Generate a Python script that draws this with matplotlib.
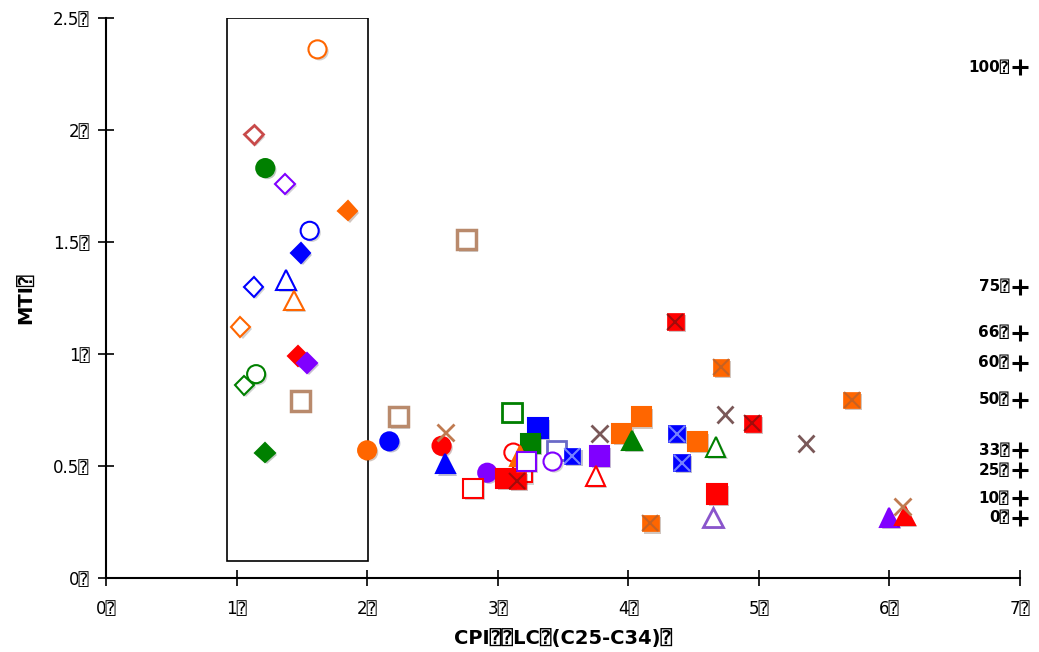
import matplotlib
matplotlib.use("Agg")
import matplotlib.pyplot as plt
import matplotlib.patheffects as pe
from matplotlib.patches import Rectangle

plt.rcParams["font.family"] = ["DejaVu Sans", "DejaVu Sans Mono", "Noto Sans"]

# missing-glyph box used in the original labels
Q = "\u2370"

# -----------------------------
# Data: (x = CPI of LC(C25-C34), y = MTI), grouped by marker style
# -----------------------------
orange_open_circle_x = [1.62]
orange_open_circle_y = [2.36]
rose_open_diamond_x = [1.13]
rose_open_diamond_y = [1.98]
green_circle_x = [1.22]
green_circle_y = [1.83]
purple_open_diamond_x = [1.37]
purple_open_diamond_y = [1.76]
orange_diamond_x = [1.85]
orange_diamond_y = [1.64]
blue_open_circle_x = [1.56]
blue_open_circle_y = [1.55]
blue_diamond_x = [1.49]
blue_diamond_y = [1.45]
blue_open_diamond_x = [1.13]
blue_open_diamond_y = [1.30]
blue_open_triangle_x = [1.38]
blue_open_triangle_y = [1.33]
orange_open_triangle_x = [1.44]
orange_open_triangle_y = [1.24]
orange_open_diamond_x = [1.03]
orange_open_diamond_y = [1.12]
red_diamond_x = [1.47]
red_diamond_y = [0.99]
purple_diamond_x = [1.54]
purple_diamond_y = [0.96]
green_open_circle_x = [1.15]
green_open_circle_y = [0.91]
green_open_diamond_x = [1.06]
green_open_diamond_y = [0.86]
tan_open_square_x = [1.49, 2.24, 2.76]
tan_open_square_y = [0.79, 0.72, 1.51]
green_diamond_x = [1.22]
green_diamond_y = [0.56]
orange_circle_x = [2.00]
orange_circle_y = [0.57]
blue_circle_x = [2.17]
blue_circle_y = [0.61]
tan_cross_x = [2.60, 6.10]
tan_cross_y = [0.65, 0.32]
red_circle_x = [2.57]
red_circle_y = [0.59]
blue_triangle_x = [2.60]
blue_triangle_y = [0.51]
purple_circle_x = [2.92]
purple_circle_y = [0.47]
red_open_square_x = [2.81, 3.19]
red_open_square_y = [0.40, 0.47]
green_open_square_x = [3.11]
green_open_square_y = [0.74]
blue_square_x = [3.31]
blue_square_y = [0.67]
green_square_x = [3.25]
green_square_y = [0.60]
red_open_circle_x = [3.12]
red_open_circle_y = [0.56]
orange_triangle_x = [3.17]
orange_triangle_y = [0.545]
purple_open_square_x = [3.22]
purple_open_square_y = [0.52]
red_square_x = [3.06, 4.68]
red_square_y = [0.445, 0.375]
red_xsquare_x = [3.15, 4.36, 4.95]
red_xsquare_y = [0.435, 1.145, 0.69]
slate_open_square_x = [3.45]
slate_open_square_y = [0.57]
purple_open_circle_x = [3.42]
purple_open_circle_y = [0.52]
blue_xsquare_x = [3.57, 4.37, 4.41]
blue_xsquare_y = [0.545, 0.645, 0.515]
purple_square_x = [3.78]
purple_square_y = [0.545]
brown_cross_x = [3.78, 4.74, 5.36]
brown_cross_y = [0.645, 0.73, 0.60]
red_open_triangle_x = [3.75]
red_open_triangle_y = [0.455]
orange_square_x = [3.95, 4.10, 4.53]
orange_square_y = [0.645, 0.72, 0.61]
green_triangle_x = [4.03]
green_triangle_y = [0.615]
orange_xsquare_x = [4.17, 4.71, 5.71]
orange_xsquare_y = [0.245, 0.94, 0.795]
green_open_triangle_x = [4.67]
green_open_triangle_y = [0.585]
purple_open_triangle_x = [4.65]
purple_open_triangle_y = [0.27]
purple_triangle_x = [6.00]
purple_triangle_y = [0.27]
red_triangle_x = [6.12]
red_triangle_y = [0.28]

# reference levels on the right edge
level_labels = ["100", "75", "66", "60", "50", "33", "25", "10", "0"]
level_y = [2.28, 1.30, 1.095, 0.96, 0.795, 0.57, 0.48, 0.355, 0.27]

# box highlighting the low-CPI group
box_x = [0.93, 2.01]
box_y = [0.075, 2.5]

ORANGE = "#ff6600"
BLUE = "#0000ff"
GREEN = "#008000"
RED = "#ff0000"
PURPLE = "#8000ff"
TAN = "#b98a6c"
BROWN = "#7a5858"
ROSE = "#c84a4a"
SLATE = "#6a6ac8"
LAVENDER = "#8a55cc"

shadow = [pe.SimplePatchShadow(offset=(1.5, -1.5), alpha=0.25), pe.Normal()]

fig, ax = plt.subplots(figsize=(10.39, 6.52), dpi=100)
fig.subplots_adjust(left=0.102, right=0.9817, bottom=0.1135, top=0.9724)


def pts(x, y, marker, color, filled=True, size=13, mew=1.5, face=None):
    fc = (face if face else color) if filled else "white"
    ax.plot(x, y, ls="none", marker=marker, ms=size, mfc=fc, mec=color,
            mew=mew, path_effects=shadow, zorder=3)


def xsquare(x, y, face, cross):
    pts(x, y, "s", face, size=12, mew=0.5)
    ax.plot(x, y, ls="none", marker="x", ms=11, mec=cross, mew=1.5,
            alpha=0.7, zorder=4)


pts(orange_open_circle_x, orange_open_circle_y, "o", ORANGE, False, 13)
pts(rose_open_diamond_x, rose_open_diamond_y, "D", ROSE, False, 10, 2)
pts(green_circle_x, green_circle_y, "o", GREEN, True, 13)
pts(purple_open_diamond_x, purple_open_diamond_y, "D", PURPLE, False, 10)
pts(orange_diamond_x, orange_diamond_y, "D", ORANGE, True, 10)
pts(blue_open_circle_x, blue_open_circle_y, "o", BLUE, False, 13)
pts(blue_diamond_x, blue_diamond_y, "D", BLUE, True, 10)
pts(blue_open_diamond_x, blue_open_diamond_y, "D", BLUE, False, 10)
pts(blue_open_triangle_x, blue_open_triangle_y, "^", BLUE, False, 14)
pts(orange_open_triangle_x, orange_open_triangle_y, "^", ORANGE, False, 14)
pts(orange_open_diamond_x, orange_open_diamond_y, "D", ORANGE, False, 10)
pts(red_diamond_x, red_diamond_y, "D", RED, True, 10)
pts(purple_diamond_x, purple_diamond_y, "D", PURPLE, True, 10)
pts(green_open_circle_x, green_open_circle_y, "o", GREEN, False, 13)
pts(green_open_diamond_x, green_open_diamond_y, "D", GREEN, False, 10)
pts(tan_open_square_x, tan_open_square_y, "s", TAN, False, 14, 2.5)
pts(green_diamond_x, green_diamond_y, "D", GREEN, True, 10)
pts(orange_circle_x, orange_circle_y, "o", ORANGE, True, 13)
pts(blue_circle_x, blue_circle_y, "o", BLUE, True, 13)
pts(red_circle_x, red_circle_y, "o", RED, True, 13)
pts(blue_triangle_x, blue_triangle_y, "^", BLUE, True, 14)
pts(purple_circle_x, purple_circle_y, "o", PURPLE, True, 13)
pts(red_open_square_x, red_open_square_y, "s", RED, False, 14)
pts(green_open_square_x, green_open_square_y, "s", GREEN, False, 14, 2)
pts(blue_square_x, blue_square_y, "s", BLUE, True, 14)
pts(green_square_x, green_square_y, "s", GREEN, True, 14)
pts(red_open_circle_x, red_open_circle_y, "o", RED, False, 13)
pts(orange_triangle_x, orange_triangle_y, "^", ORANGE, True, 14)
pts(purple_open_square_x, purple_open_square_y, "s", PURPLE, False, 14)
pts(red_square_x, red_square_y, "s", RED, True, 14)
xsquare(red_xsquare_x, red_xsquare_y, RED, "#7a1010")
pts(slate_open_square_x, slate_open_square_y, "s", SLATE, False, 14, 2)
pts(purple_open_circle_x, purple_open_circle_y, "o", PURPLE, False, 13)
xsquare(blue_xsquare_x, blue_xsquare_y, BLUE, "#a8b8ff")
pts(purple_square_x, purple_square_y, "s", PURPLE, True, 14)
pts(red_open_triangle_x, red_open_triangle_y, "^", RED, False, 14)
pts(orange_square_x, orange_square_y, "s", ORANGE, True, 14)
pts(green_triangle_x, green_triangle_y, "^", GREEN, True, 14)
xsquare(orange_xsquare_x, orange_xsquare_y, ORANGE, "#b06030")
pts(green_open_triangle_x, green_open_triangle_y, "^", GREEN, False, 14)
pts(purple_open_triangle_x, purple_open_triangle_y, "^", LAVENDER, False, 14, 2)
pts(purple_triangle_x, purple_triangle_y, "^", PURPLE, True, 14)
pts(red_triangle_x, red_triangle_y, "^", RED, True, 14)
pts(tan_cross_x, tan_cross_y, "x", "#c07a50", True, 12, 2)
pts(brown_cross_x, brown_cross_y, "x", BROWN, True, 12, 2)

# highlight box
ax.add_patch(Rectangle((box_x[0], box_y[0]), box_x[1] - box_x[0],
                       box_y[1] - box_y[0], fill=False, ec="black", lw=1.2,
                       zorder=2))

# right-edge reference levels
ax.plot([7] * len(level_y), level_y, ls="none", marker="+", ms=12, mew=2.2,
        color="black", clip_on=False, zorder=5)
for lab, yv in zip(level_labels, level_y):
    ax.annotate(lab + Q, (7, yv), xytext=(-8, 0), textcoords="offset points",
                ha="right", va="center", fontsize=11, fontweight="bold",
                annotation_clip=False)

ax.set_xlim(0, 7)
ax.set_ylim(0, 2.5)
ax.set_xticks(range(8))
ax.set_xticklabels([f"{i}{Q}" for i in range(8)], fontsize=12)
ax.set_yticks([0, 0.5, 1, 1.5, 2, 2.5])
ax.set_yticklabels([f"{v:g}{Q}" for v in [0, 0.5, 1, 1.5, 2, 2.5]],
                   fontsize=12)
ax.tick_params(direction="inout", length=12, width=1.2, pad=6)
ax.tick_params(axis="x", pad=10)

for s in ["top", "right"]:
    ax.spines[s].set_visible(False)
for s in ["left", "bottom"]:
    ax.spines[s].set_linewidth(1.5)

ax.set_xlabel(f"CPI{Q}{Q}LC{Q}(C25-C34){Q}", fontsize=14, fontweight="bold",
              labelpad=8)
ax.set_ylabel(f"MTI{Q}", fontsize=14, fontweight="bold", labelpad=12)

fig.savefig("out.png", dpi=100)
